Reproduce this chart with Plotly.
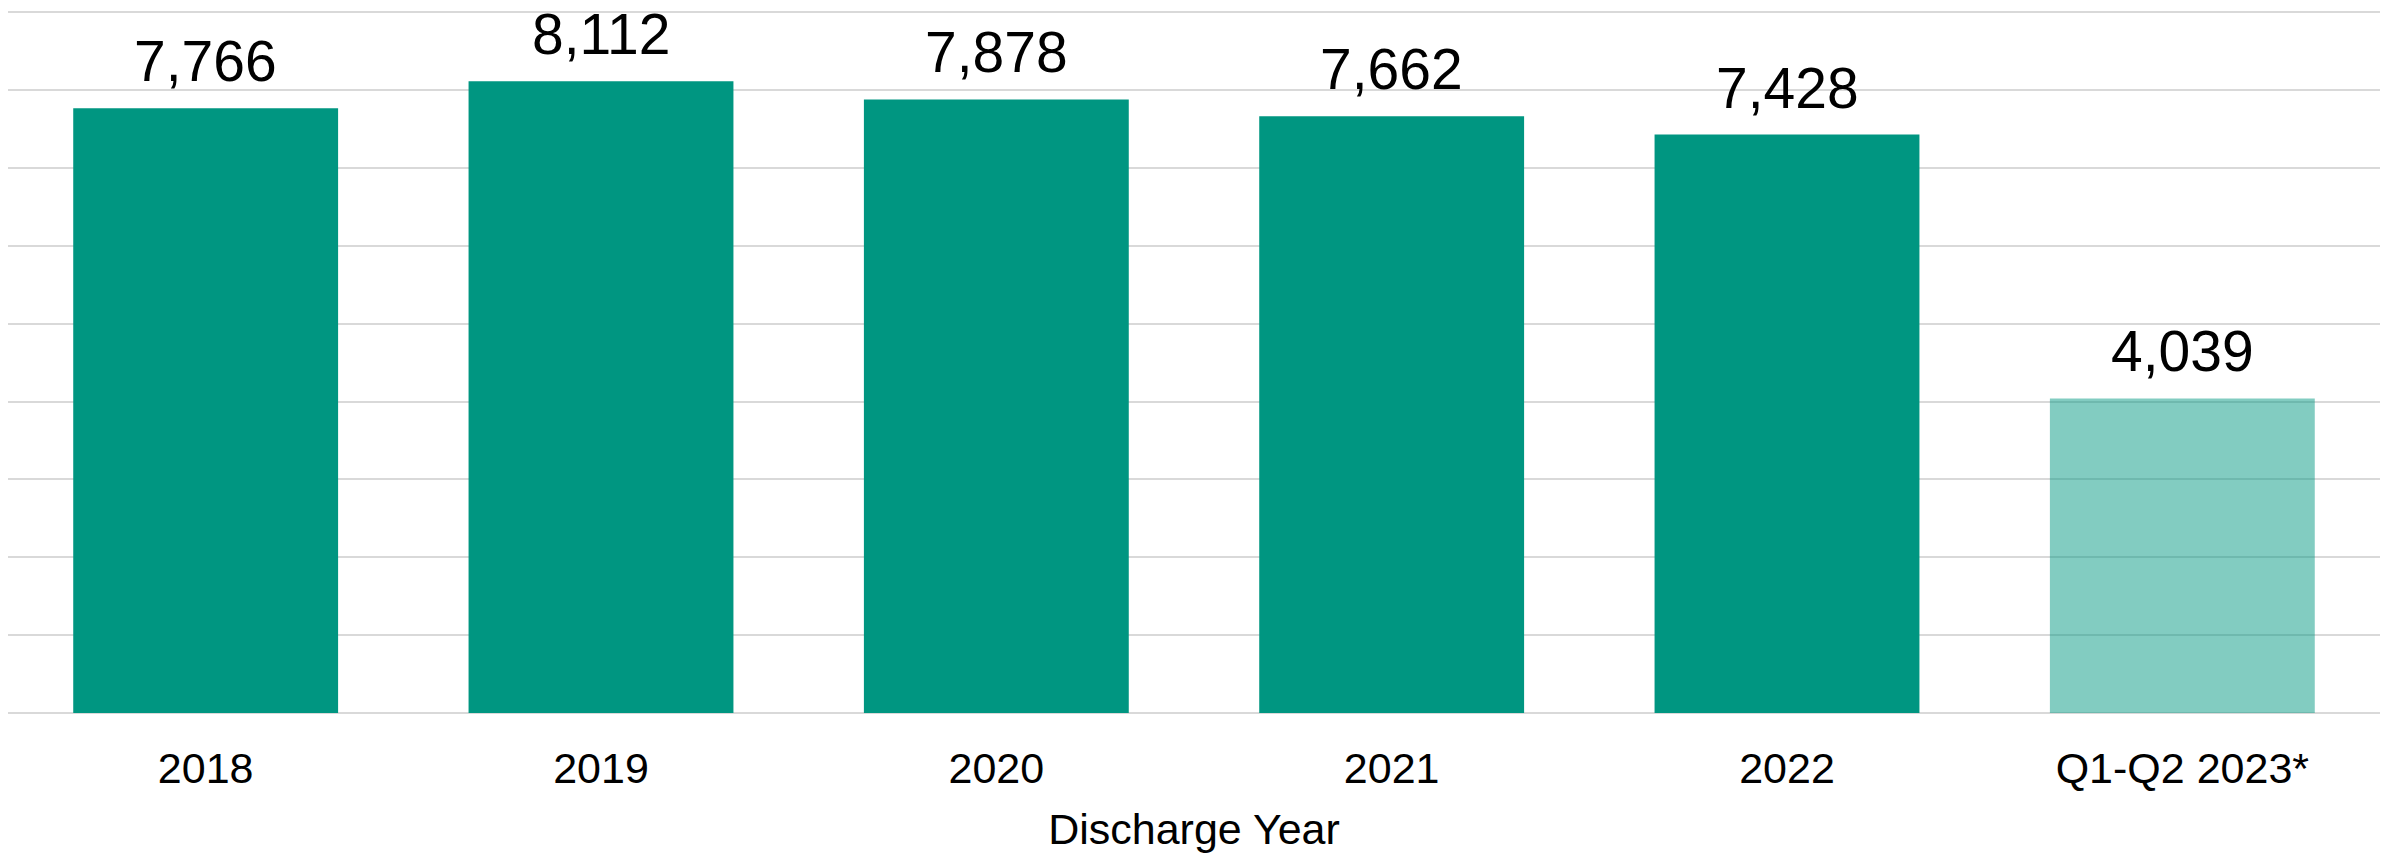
import plotly.graph_objects as go

categories = ["2018", "2019", "2020", "2021", "2022", "Q1-Q2 2023*"]
values = [7766, 8112, 7878, 7662, 7428, 4039]
labels = ["7,766", "8,112", "7,878", "7,662", "7,428", "4,039"]

FONT = "Liberation Sans Narrow, Arial Narrow, Liberation Sans, Arial, sans-serif"
colors = ["rgb(0,150,129)"] * 5 + ["rgba(0,150,129,0.49)"]

fig = go.Figure()
fig.add_trace(go.Bar(
    x=categories, y=values,
    marker=dict(color=colors, line=dict(width=0)),
    hoverinfo="skip",
))

for i, (v, t) in enumerate(zip(values, labels)):
    fig.add_annotation(x=i, y=v, text=t, showarrow=False, yanchor="bottom",
                       yshift=13, font=dict(family=FONT, size=57, color="black"))

fig.update_layout(
    width=2387, height=851,
    margin=dict(l=0, r=15, t=1, b=146),
    paper_bgcolor="white", plot_bgcolor="white",
    bargap=0.33,
    showlegend=False,
    font=dict(family=FONT, color="black"),
)
fig.update_xaxes(
    type="category", range=[-0.5, len(categories) - 0.5],
    showgrid=False, showline=False, zeroline=False,
    tickfont=dict(family=FONT, size=43, color="black"),
    ticks="", ticklabelstandoff=26,
    title=dict(text="Discharge Year", font=dict(family=FONT, size=43, color="black"), standoff=22),
)
fig.update_yaxes(
    range=[0, 9040], dtick=1000, showticklabels=False,
    showgrid=True, gridcolor="#d9d9d9", gridwidth=2,
    zeroline=True, zerolinecolor="#d9d9d9", zerolinewidth=2,
    showline=False,
)
fig.write_html("out.html")
